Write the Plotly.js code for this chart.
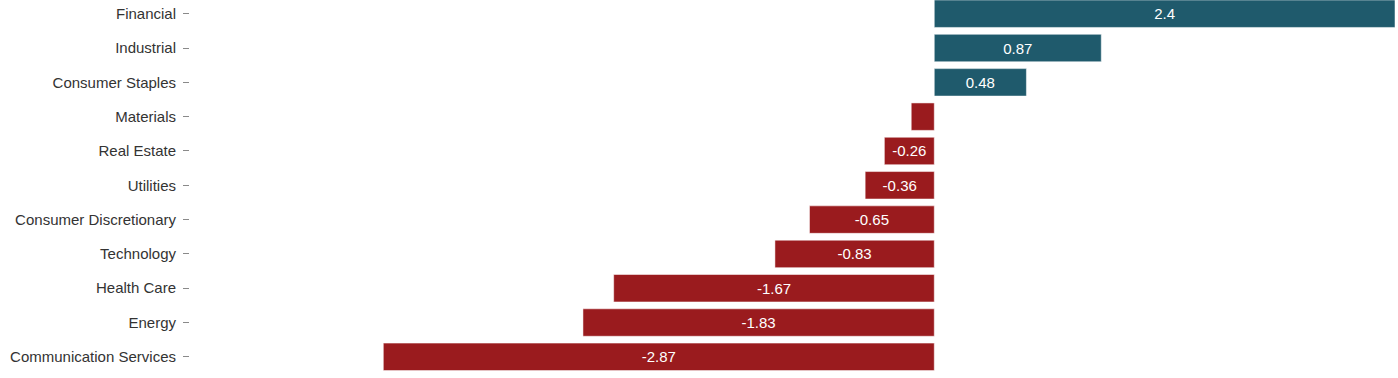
<!DOCTYPE html>
<html>
<head>
<meta charset="utf-8">
<script src="https://cdn.plot.ly/plotly-3.0.1.min.js"></script>
<style>html,body{margin:0;padding:0;background:#fff;}#chart{width:1398px;height:378px;}</style>
</head>
<body>
<div id="chart"></div>
<script>
const sectors = ["Communication Services","Energy","Health Care","Technology","Consumer Discretionary","Utilities","Real Estate","Materials","Consumer Staples","Industrial","Financial"];
const changes = [-2.87,-1.83,-1.67,-0.83,-0.65,-0.36,-0.26,-0.12,0.48,0.87,2.4];
const posColor = "#1f5a6c";
const negColor = "#9a1b1e";
const colors = changes.map(v => v >= 0 ? posColor : negColor);
const labels = changes.map(v => String(v));

const trace = {
  type: "bar",
  orientation: "h",
  y: sectors,
  x: changes,
  text: labels,
  textposition: "inside",
  insidetextanchor: "middle",
  textfont: {color: "#ffffff", size: 15, family: "Liberation Sans, Arial, sans-serif"},
  marker: {color: colors, line: {color: "rgba(255,255,255,0.5)", width: 1}},
  width: 0.8,
  hoverinfo: "x+y"
};

const layout = {
  width: 1398, height: 378,
  margin: {l: 190, r: 3, t: 0, b: 4},
  paper_bgcolor: "#ffffff", plot_bgcolor: "#ffffff",
  showlegend: false,
  uniformtext: {mode: "hide", minsize: 15},
  font: {family: "Liberation Sans, Arial, sans-serif", size: 15, color: "#333333"},
  xaxis: {range: [-3.877, 2.4], visible: false, showgrid: false, zeroline: false},
  yaxis: {
    type: "category",
    range: [-0.5, 10.4],
    ticks: "outside", ticklen: 6, tickcolor: "#8a8a8a", tickwidth: 1,
    ticklabelstandoff: 4,
    showgrid: false, zeroline: false, showline: false,
    tickfont: {size: 15, color: "#333333"}
  }
};

Plotly.newPlot("chart", [trace], layout, {displayModeBar: false, staticPlot: true});
</script>
</body>
</html>
